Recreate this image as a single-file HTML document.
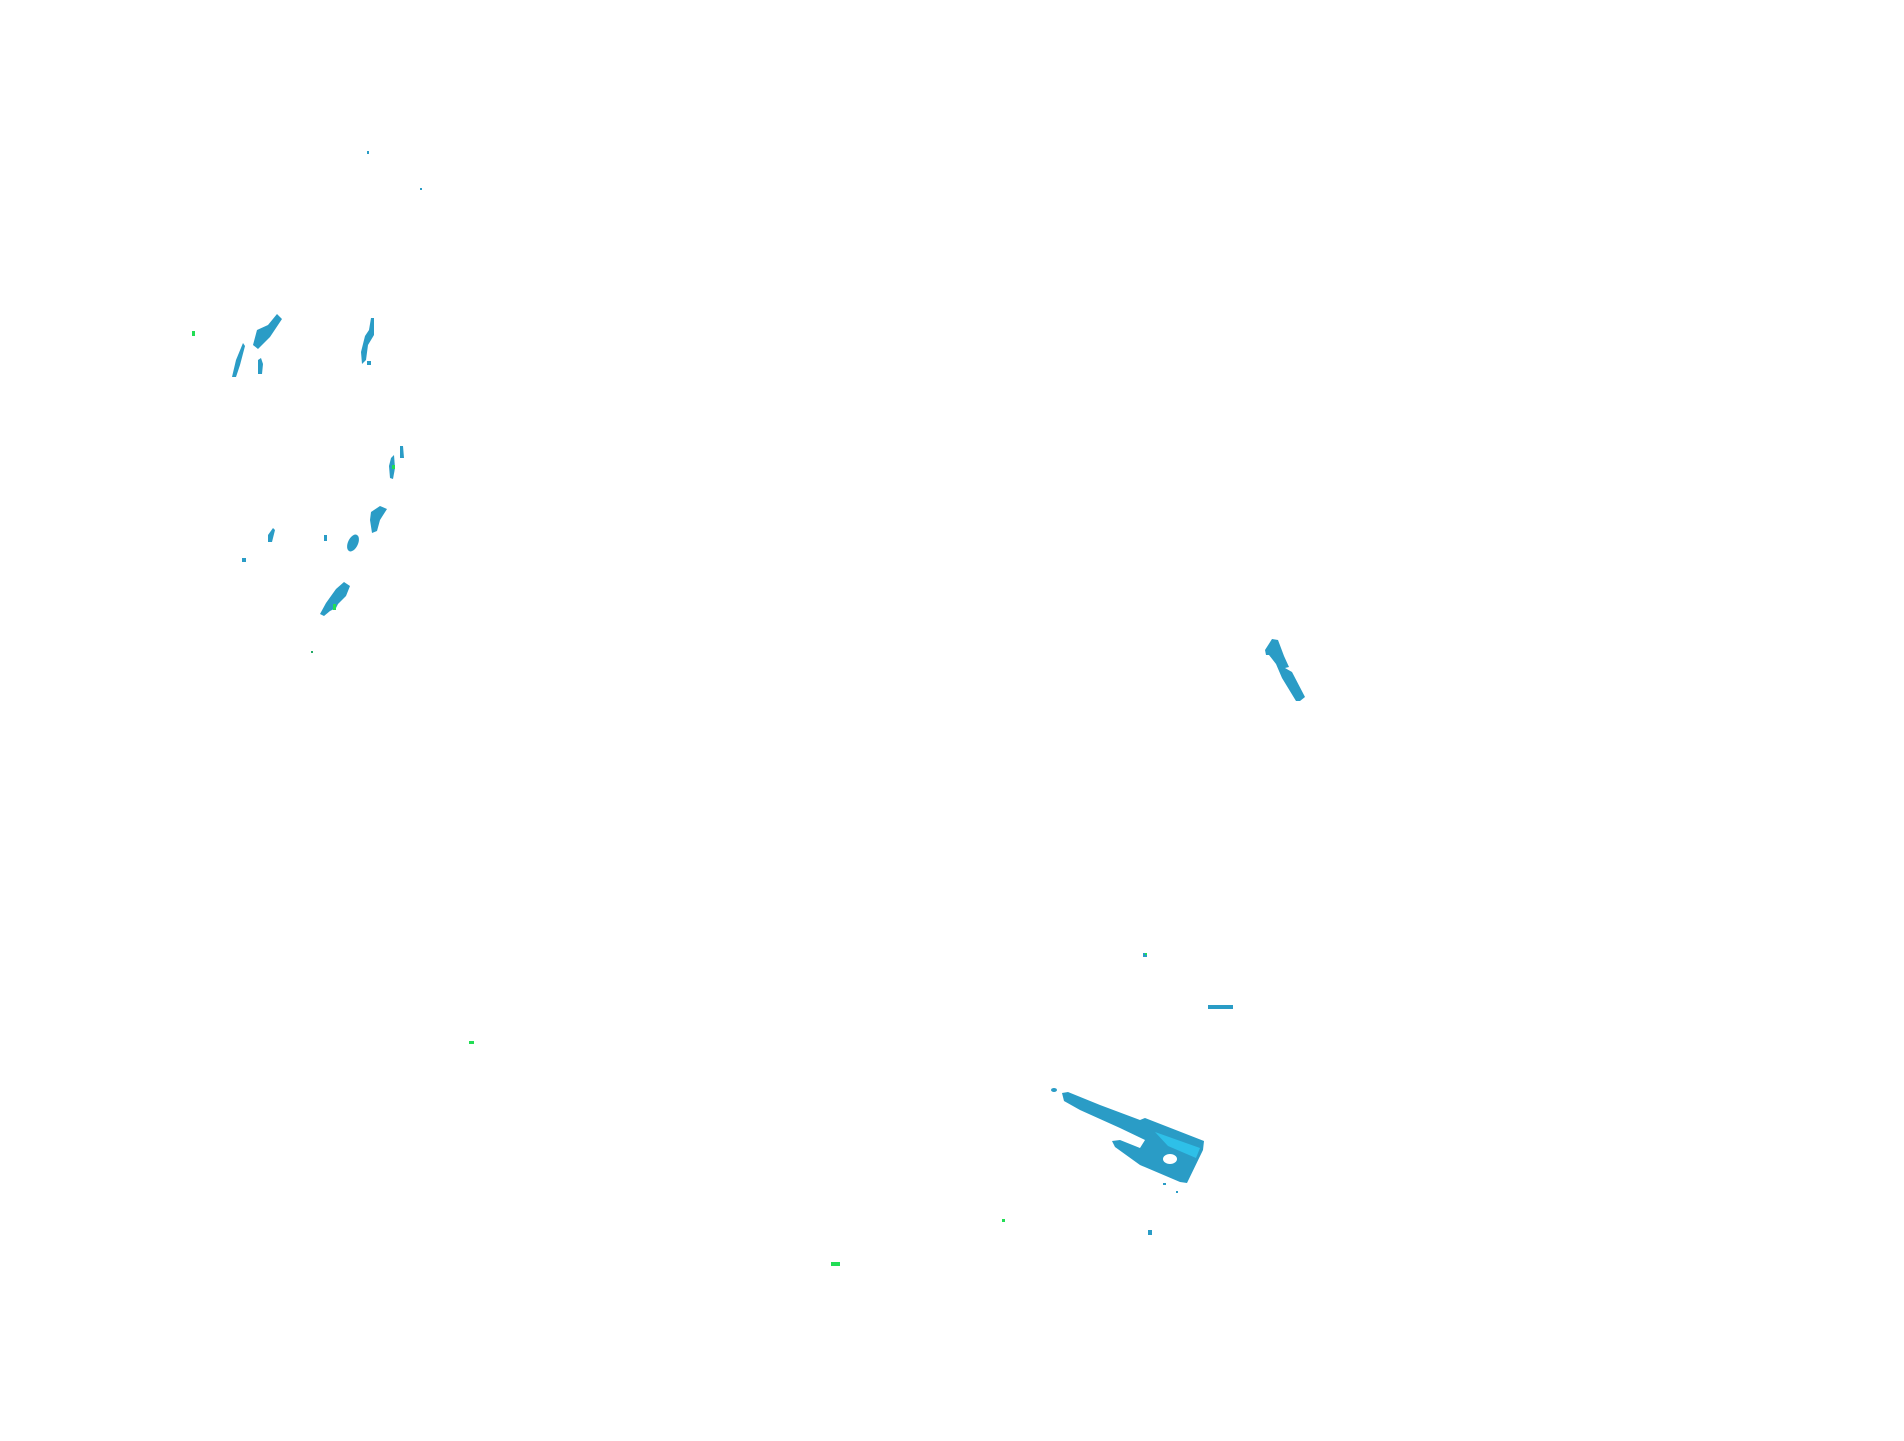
<!DOCTYPE html>
<html><head><style>html,body{margin:0;padding:0;background:#fff;}svg{display:block}</style></head>
<body>
<svg width="1904" height="1441" viewBox="0 0 1904 1441" xmlns="http://www.w3.org/2000/svg">
<g fill="#2a9cc6">
<polygon points="253,345 257,330 268,325 277,314 282,319 270,337 258,349"/>
<polygon points="232,377 236,360 243,343 245,346 240,365 236,377"/>
<polygon points="258,360 261,358 263,364 262,374 258,374"/>
<polygon points="371,318 374,318 374,335 368,345 366,360 362,364 361,352 365,336 369,330"/>
<rect x="367" y="361" width="4" height="4"/>
<polygon points="400,446 403,446 404,458 400,458"/>
<polygon points="391,458 394,455 395,468 393,479 390,478 389,466"/>
<polygon points="371,512 380,506 387,509 380,520 377,531 372,533 370,520"/>
<ellipse cx="353" cy="543" rx="5" ry="9" transform="rotate(25 353 543)"/>
<polygon points="268,535 273,528 275,530 272,542 268,542"/>
<rect x="324" y="535" width="3" height="6"/>
<rect x="242" y="558" width="4" height="4"/>
<polygon points="320,614 326,603 336,589 344,582 350,586 346,596 338,604 336,608 330,611 324,616"/>
<rect x="367" y="151" width="2" height="3"/>
<rect x="420" y="188" width="2" height="2"/>
<rect x="1143" y="953" width="4" height="4"/>
<rect x="1208" y="1005" width="25" height="4"/>
<rect x="1148" y="1230" width="4" height="5"/>
<!-- right shape -->
<polygon points="1265,650 1272,639 1278,640 1284,656 1289,667 1285,668 1292,672 1305,697 1300,701 1296,701 1282,678 1276,664 1269,655 1266,655"/>
<!-- lower-right shape -->
<ellipse cx="1054" cy="1090" rx="3" ry="2"/>
<polygon points="1062,1093 1068,1092 1100,1105 1140,1120 1145,1118 1204,1141 1203,1150 1187,1183 1180,1182 1140,1165 1115,1147 1112,1141 1120,1140 1140,1148 1145,1140 1120,1128 1080,1110 1064,1101"/>
<rect x="1163" y="1183" width="3" height="2"/>
<rect x="1176" y="1191" width="2" height="2"/>
</g>
<ellipse cx="1170" cy="1159" rx="7" ry="5" fill="#fff"/>
<polygon points="1155,1132 1200,1148 1196,1158 1168,1146" fill="#2ec0e8"/>
<g fill="#22dd55">
<rect x="192" y="331" width="3" height="5"/>
<rect x="469" y="1041" width="5" height="3"/>
<rect x="831" y="1262" width="9" height="4"/>
<rect x="1002" y="1219" width="3" height="3"/>
<rect x="392" y="465" width="3" height="4"/>
<rect x="333" y="604" width="3" height="6"/>
</g>
<rect x="1145" y="953" width="2" height="2" fill="#22dd55"/>
<rect x="311" y="651" width="2" height="2" fill="#22aa66"/>
</svg>
</body></html>
